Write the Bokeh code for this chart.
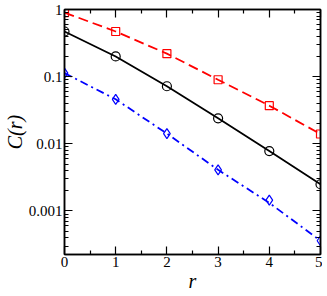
from bokeh.plotting import figure
from bokeh.models import (LinearAxis, LogAxis, FixedTicker, CustomJSTickFormatter, Range1d)
from bokeh.embed import file_html
from bokeh.resources import INLINE

r = [0, 1, 2, 3, 4, 5]
red_vals = [0.90, 0.47, 0.22, 0.090, 0.037, 0.014]
black_vals = [0.47, 0.20, 0.072, 0.024, 0.0078, 0.0025]
blue_vals = [0.113, 0.046, 0.0142, 0.0041, 0.00145, 0.00036]
blue_fit = [0.113, 0.046, 0.0142, 0.0041, 0.00132, 0.00036]

x_major = [0, 1, 2, 3, 4, 5]
x_minor = [0.5, 1.5, 2.5, 3.5, 4.5]
y_major = [0.001, 0.01, 0.1, 1]
y_minor = [m * d for d in [0.0001, 0.001, 0.01, 0.1] for m in range(2, 10)]

p = figure(frame_width=256, frame_height=245, y_axis_type="log",
           x_range=Range1d(0, 5), y_range=Range1d(2.25e-4, 1),
           output_backend="svg", toolbar_location=None,
           min_border_left=0, min_border_right=2, min_border_top=9, min_border_bottom=0)
p.background_fill_color = "white"
p.outline_line_color = "black"
p.outline_line_width = 1.5
p.xgrid.visible = False
p.ygrid.visible = False

xt = FixedTicker(ticks=x_major, minor_ticks=x_minor)
yt = FixedTicker(ticks=y_major, minor_ticks=y_minor)
fmt = CustomJSTickFormatter(code="return String(tick);")

font = "Liberation Serif"

def style(ax, labels=True):
    ax.major_tick_in = 8
    ax.major_tick_out = 0
    ax.minor_tick_in = 4
    ax.minor_tick_out = 0
    ax.axis_line_width = 1.5
    ax.major_tick_line_width = 1.2
    ax.minor_tick_line_width = 1.2
    ax.major_label_text_font = font
    ax.major_label_text_font_size = "15px"
    ax.major_label_text_color = "black" if labels else None
    ax.axis_label_text_font = font
    ax.axis_label_text_font_size = "20px"
    ax.axis_label_text_font_style = "italic"
    ax.axis_label_text_color = "black"
    ax.major_label_standoff = 2

p.xaxis.ticker = xt
p.yaxis.ticker = yt
p.yaxis.formatter = fmt
p.xaxis.axis_label = "r"
p.yaxis.axis_label = "C(r)"
p.xaxis.axis_label_standoff = 0
p.yaxis.axis_label_standoff = 0
style(p.xaxis[0])
style(p.yaxis[0])

top = LinearAxis(ticker=xt)
style(top, labels=False)
top.major_label_text_font_size = "0px"
p.add_layout(top, "above")
right = LogAxis(ticker=yt, formatter=fmt)
style(right, labels=False)
right.major_label_text_font_size = "0px"
p.add_layout(right, "right")

p.line(r, red_vals, line_color="#ff0000", line_width=1.8, line_dash="10 5")
p.line(r, black_vals, line_color="black", line_width=1.8)
p.line(r, blue_fit, line_color="#0000ff", line_width=1.8, line_dash="8 4 2 4")

p.scatter(r, red_vals, marker="square", size=8, fill_color=None, line_color="#ff0000", line_width=1.2)
p.scatter(r, black_vals, marker="circle", size=9, fill_color=None, line_color="black", line_width=1.2)
p.scatter(r, blue_vals, marker="diamond", size=10, fill_color=None, line_color="#0000ff", line_width=1.2)

open("out.html", "w").write(file_html(p, INLINE))
